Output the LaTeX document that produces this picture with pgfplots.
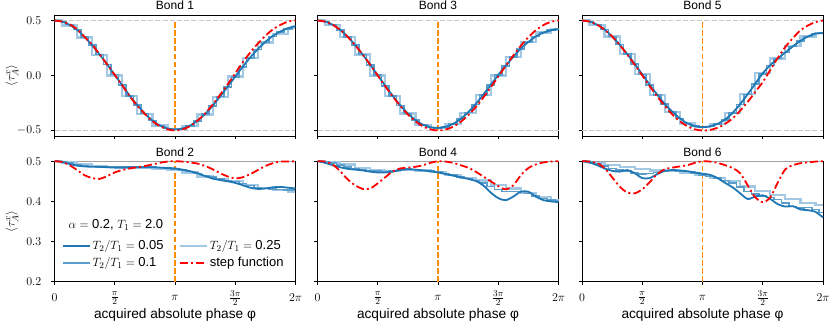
\documentclass[border=0pt]{standalone}
\usepackage{amsmath}
\usepackage{fontspec}
\setmainfont{Liberation Sans}
\usepackage{pgfplots}
\usepackage{pgfplotstable}
\pgfplotsset{compat=1.18}

\definecolor{b05}{HTML}{1F77B4}
\definecolor{b10}{HTML}{5C9ECC}
\definecolor{b25}{HTML}{A3C8E4}
\definecolor{refgray}{HTML}{C8C8C8}
\definecolor{vorange}{HTML}{FF8C00}

% line styles (tikz side, so legend images can use them too)
\tikzset{
  l25/.style={draw=b25, line width=2.2pt},
  l10/.style={draw=b10, line width=1.6pt},
  l05/.style={draw=b05, line width=1.8pt},
  lred/.style={draw=red, line width=1.8pt, dash pattern=on 8pt off 3pt on 2pt off 3pt},
}
\pgfplotsset{
  p25/.style={l25, const plot mark mid, forget plot},
  p10/.style={l10, const plot mark mid, forget plot},
  p05/.style={l05, smooth, forget plot},
  pred/.style={lred, smooth, forget plot},
  sor/.style={draw=vorange, line width=1.5pt, dash pattern=on 5.5pt off 2.4pt, forget plot},
  sgr/.style={draw=refgray, line width=1.1pt, dash pattern=on 5pt off 2.2pt, forget plot},
  stop/.style={draw=refgray!80!black, line width=1pt, forget plot},
  panel/.style={
    scale only axis, width=241pt, anchor=south west, clip=false,
    xmin=0, xmax=2,
    axis line style={line width=0.8pt},
    every tick/.style={black, line width=0.8pt},
    major tick length=3.5pt, tick align=outside,
    xtick pos=lower, ytick pos=left,
    xtick={0,0.5,1,1.5,2},
    ticklabel style={font=\fontsize{12.6}{15}\selectfont},
    xticklabel style={anchor=center, inner sep=0pt, yshift=-12.5pt},
    yticklabel style={anchor=east, inner sep=0pt, xshift=-9.5pt},
    every axis title/.style={at={(0.5,1)}, anchor=base, yshift=5pt, font=\fontsize{12}{14}\selectfont},
    every axis y label/.style={at={(rel axis cs:0,0.5)}, xshift=-42.5pt, rotate=90, anchor=center, font=\fontsize{13}{15}\selectfont},
    every axis x label/.style={at={(rel axis cs:0.5,0)}, yshift=-33pt, anchor=center, font=\fontsize{13.7}{16}\selectfont},
  },
  toprow/.style={panel, height=121pt, ymin=-0.55, ymax=0.55,
    ytick={-0.5,0,0.5}, yticklabels={$-0.5$,$0.0$,$0.5$}, xticklabels={}},
  botrow/.style={panel, height=120.5pt, ymin=0.2, ymax=0.5,
    ytick={0.2,0.3,0.4,0.5}, yticklabels={$0.2$,$0.3$,$0.4$,$0.5$},
    xticklabels={$0$,$\frac{\pi}{2}$,$\pi$,$\frac{3\pi}{2}$,$2\pi$},
    xlabel={acquired absolute phase φ}},
}

% x in units of pi; r = step function, b = T2/T1=0.05, c = T2/T1=0.1
\pgfplotstableread{
x      r       b       c
0      0.500   0.500   0.500
0.0625 0.490   0.490   0.492
0.125  0.465   0.460   0.462
0.1875 0.420   0.415   0.418
0.25   0.350   0.350   0.352
0.3125 0.280   0.275   0.278
0.375  0.190   0.190   0.192
0.4375 0.100   0.100   0.100
0.5    0.005   0.005   0.008
0.5625 -0.090  -0.090  -0.088
0.625  -0.190  -0.185  -0.185
0.6875 -0.275  -0.270  -0.270
0.75   -0.350  -0.345  -0.345
0.8125 -0.415  -0.410  -0.410
0.875  -0.460  -0.455  -0.455
0.9375 -0.490  -0.482  -0.482
1.0    -0.500  -0.490  -0.490
1.0625 -0.490  -0.482  -0.484
1.125  -0.460  -0.455  -0.458
1.1875 -0.410  -0.410  -0.414
1.25   -0.345  -0.350  -0.352
1.3125 -0.265  -0.275  -0.278
1.375  -0.175  -0.190  -0.192
1.4375 -0.080  -0.100  -0.102
1.5    0.020   -0.010  -0.012
1.5625 0.120   0.080   0.076
1.625  0.210   0.165   0.160
1.6875 0.290   0.240   0.236
1.75   0.360   0.305   0.300
1.8125 0.420   0.360   0.355
1.875  0.460   0.400   0.395
1.9375 0.490   0.430   0.425
2.0    0.500   0.450   0.445
}\bondA

\pgfplotstableread{
x      r       b       c
0      0.500   0.500   0.500
0.0625 0.498   0.498   0.499
0.125  0.490   0.493   0.496
0.1875 0.478   0.489   0.492
0.25   0.465   0.487   0.489
0.3125 0.458   0.486   0.487
0.375  0.456   0.486   0.486
0.4375 0.463   0.485   0.485
0.5    0.472   0.484   0.485
0.5625 0.478   0.484   0.485
0.625  0.482   0.485   0.485
0.6875 0.485   0.485   0.485
0.75   0.488   0.485   0.485
0.8125 0.492   0.485   0.485
0.875  0.496   0.484   0.484
0.9375 0.499   0.483   0.483
1.0    0.500   0.482   0.481
1.0625 0.499   0.479   0.478
1.125  0.497   0.475   0.474
1.1875 0.494   0.470   0.469
1.25   0.488   0.463   0.464
1.3125 0.480   0.457   0.460
1.375  0.470   0.453   0.456
1.4375 0.462   0.450   0.452
1.5    0.457   0.446   0.449
1.5625 0.460   0.440   0.444
1.625  0.468   0.434   0.439
1.6875 0.478   0.431   0.435
1.75   0.488   0.432   0.432
1.8125 0.495   0.435   0.431
1.875  0.499   0.436   0.430
1.9375 0.499   0.434   0.429
2.0    0.500   0.432   0.428
}\bondB

\pgfplotstableread{
x      r       b       c
0      0.500   0.500   0.500
0.0625 0.490   0.490   0.490
0.125  0.462   0.462   0.462
0.1875 0.415   0.416   0.416
0.25   0.352   0.353   0.352
0.3125 0.275   0.277   0.276
0.375  0.190   0.190   0.190
0.4375 0.098   0.098   0.098
0.5    0.000   0.002   0.002
0.5625 -0.098  -0.095  -0.095
0.625  -0.191  -0.186  -0.187
0.6875 -0.278  -0.272  -0.272
0.75   -0.354  -0.345  -0.346
0.8125 -0.416  -0.405  -0.406
0.875  -0.462  -0.447  -0.448
0.9375 -0.490  -0.470  -0.471
1.0    -0.500  -0.476  -0.477
1.0625 -0.492  -0.467  -0.470
1.125  -0.466  -0.440  -0.443
1.1875 -0.422  -0.395  -0.398
1.25   -0.362  -0.335  -0.338
1.3125 -0.288  -0.260  -0.263
1.375  -0.202  -0.175  -0.178
1.4375 -0.108  -0.085  -0.088
1.5    -0.010  0.005   0.002
1.5625 0.088   0.090   0.088
1.625  0.182   0.170   0.168
1.6875 0.270   0.245   0.243
1.75   0.348   0.305   0.303
1.8125 0.412   0.355   0.353
1.875  0.458   0.390   0.390
1.9375 0.488   0.410   0.412
2.0    0.500   0.420   0.422
}\bondC

\pgfplotstableread{
x      r       b       c
0      0.500   0.500   0.500
0.0625 0.499   0.496   0.499
0.125  0.492   0.490   0.495
0.1875 0.475   0.485   0.490
0.25   0.455   0.481   0.486
0.3125 0.440   0.479   0.482
0.375  0.431   0.477   0.479
0.4375 0.432   0.474   0.476
0.5    0.445   0.472   0.475
0.5625 0.460   0.472   0.474
0.625  0.475   0.474   0.476
0.6875 0.482   0.478   0.479
0.75   0.484   0.480   0.480
0.8125 0.486   0.479   0.479
0.875  0.490   0.477   0.477
0.9375 0.496   0.475   0.475
1.0    0.500   0.472   0.473
1.0625 0.499   0.468   0.469
1.125  0.496   0.464   0.465
1.1875 0.490   0.460   0.461
1.25   0.484   0.456   0.457
1.3125 0.474   0.451   0.452
1.375  0.462   0.440   0.445
1.4375 0.450   0.422   0.437
1.5    0.438   0.408   0.430
1.5625 0.430   0.403   0.425
1.625  0.440   0.412   0.425
1.6875 0.465   0.424   0.425
1.75   0.483   0.424   0.420
1.8125 0.492   0.412   0.413
1.875  0.497   0.403   0.407
1.9375 0.499   0.400   0.403
2.0    0.500   0.398   0.401
}\bondD

\pgfplotstableread{
x      r       b       c
0      0.500   0.500   0.500
0.0625 0.490   0.490   0.490
0.125  0.462   0.462   0.462
0.1875 0.416   0.418   0.418
0.25   0.354   0.355   0.355
0.3125 0.278   0.280   0.280
0.375  0.191   0.195   0.195
0.4375 0.098   0.105   0.104
0.5    0.000   0.010   0.009
0.5625 -0.098  -0.085  -0.086
0.625  -0.191  -0.175  -0.176
0.6875 -0.278  -0.260  -0.261
0.75   -0.354  -0.330  -0.332
0.8125 -0.416  -0.390  -0.392
0.875  -0.462  -0.435  -0.436
0.9375 -0.490  -0.460  -0.461
1.0    -0.500  -0.470  -0.470
1.0625 -0.495  -0.462  -0.463
1.125  -0.475  -0.440  -0.441
1.1875 -0.440  -0.400  -0.402
1.25   -0.390  -0.340  -0.342
1.3125 -0.320  -0.260  -0.262
1.375  -0.240  -0.170  -0.172
1.4375 -0.150  -0.075  -0.078
1.5    -0.060  0.020   0.016
1.5625 0.050   0.095   0.092
1.625  0.160   0.155   0.153
1.6875 0.260   0.210   0.208
1.75   0.340   0.265   0.263
1.8125 0.410   0.315   0.314
1.875  0.455   0.355   0.354
1.9375 0.485   0.380   0.380
2.0    0.500   0.385   0.386
}\bondE

\pgfplotstableread{
x      r       b       c
0      0.500   0.500   0.500
0.0625 0.499   0.497   0.498
0.125  0.495   0.490   0.494
0.1875 0.483   0.482   0.488
0.25   0.460   0.476   0.482
0.3125 0.437   0.474   0.478
0.375  0.422   0.478   0.475
0.4375 0.420   0.470   0.471
0.5    0.430   0.458   0.468
0.5625 0.448   0.458   0.469
0.625  0.468   0.468   0.472
0.6875 0.480   0.476   0.476
0.75   0.484   0.478   0.477
0.8125 0.487   0.477   0.476
0.875  0.490   0.475   0.474
0.9375 0.496   0.472   0.470
1.0    0.500   0.469   0.466
1.0625 0.499   0.466   0.462
1.125  0.496   0.458   0.458
1.1875 0.490   0.446   0.452
1.25   0.483   0.435   0.445
1.3125 0.470   0.420   0.436
1.375  0.440   0.406   0.425
1.4375 0.410   0.412   0.418
1.5    0.398   0.415   0.413
1.5625 0.410   0.406   0.410
1.625  0.447   0.393   0.405
1.6875 0.480   0.387   0.396
1.75   0.490   0.388   0.387
1.8125 0.495   0.380   0.383
1.875  0.497   0.378   0.385
1.9375 0.499   0.374   0.380
2.0    0.500   0.360   0.372
}\bondF

\begin{document}
\begin{tikzpicture}
% ---- top row ----
\begin{axis}[toprow, at={(54.5pt,187pt)}, title={Bond 1}, ylabel={$\langle\tau_A^x\rangle$}]
\addplot[sgr] coordinates {(0,0.5)(2,0.5)};
\addplot[sgr] coordinates {(0,-0.5)(2,-0.5)};
\addplot[sor] coordinates {(1,-0.5)(1,0.5)};
\addplot[p25] coordinates {(0,0.5)(0.125,0.455)(0.25,0.345)(0.375,0.185)(0.5,0.0)(0.625,-0.19)(0.75,-0.35)(0.875,-0.455)(1.0,-0.49)(1.125,-0.46)(1.25,-0.355)(1.375,-0.195)(1.5,-0.01)(1.625,0.16)(1.75,0.3)(1.875,0.38)(2.0,0.43)};
\addplot[p10] table[x=x,y=c] {\bondA};
\addplot[p05] table[x=x,y=b] {\bondA};
\addplot[pred] table[x=x,y=r] {\bondA};
\end{axis}

\begin{axis}[toprow, at={(317.5pt,187pt)}, title={Bond 3}, yticklabels={}]
\addplot[sgr] coordinates {(0,0.5)(2,0.5)};
\addplot[sgr] coordinates {(0,-0.5)(2,-0.5)};
\addplot[sor] coordinates {(1,-0.5)(1,0.5)};
\addplot[p25] coordinates {(0,0.5)(0.125,0.462)(0.25,0.352)(0.375,0.19)(0.5,0.0)(0.625,-0.187)(0.75,-0.346)(0.875,-0.448)(1.0,-0.477)(1.125,-0.443)(1.25,-0.338)(1.375,-0.178)(1.5,0.0)(1.625,0.168)(1.75,0.303)(1.875,0.39)(2.0,0.422)};
\addplot[p10] table[x=x,y=c] {\bondC};
\addplot[p05] table[x=x,y=b] {\bondC};
\addplot[pred] table[x=x,y=r] {\bondC};
\end{axis}

\begin{axis}[toprow, at={(582pt,187pt)}, title={Bond 5}, yticklabels={}]
\addplot[sgr] coordinates {(0,0.5)(2,0.5)};
\addplot[sgr] coordinates {(0,-0.5)(2,-0.5)};
\addplot[sor] coordinates {(1,-0.5)(1,0.5)};
\addplot[p25] coordinates {(0,0.5)(0.125,0.462)(0.25,0.355)(0.375,0.195)(0.5,0.01)(0.625,-0.176)(0.75,-0.332)(0.875,-0.436)(1.0,-0.465)(1.125,-0.44)(1.25,-0.34)(1.375,-0.17)(1.5,0.02)(1.625,0.155)(1.75,0.265)(1.875,0.355)(2.0,0.388)};
\addplot[p10] table[x=x,y=c] {\bondE};
\addplot[p05] table[x=x,y=b] {\bondE};
\addplot[pred] table[x=x,y=r] {\bondE};
\end{axis}

% ---- bottom row ----
\begin{axis}[botrow, at={(54.5pt,41.3pt)}, title={Bond 2}, ylabel={$\langle\tau_A^x\rangle$},
  legend columns=2, legend cell align=left,
  legend image code/.code={\draw[#1] (0pt,0pt) -- (27pt,0pt);},
  legend style={at={(0.019,0.37)}, anchor=north west, draw=none, fill=none,
    font=\fontsize{13}{15}\selectfont, row sep=3pt, nodes={inner sep=1.5pt},
    /tikz/every even column/.append style={column sep=14pt}}]
\addplot[stop] coordinates {(0,0.5)(2,0.5)};
\addplot[sor] coordinates {(1,0.2)(1,0.5)};
\addplot[p25] coordinates {(0,0.5)(0.125,0.497)(0.25,0.492)(0.375,0.488)(0.5,0.485)(0.625,0.484)(0.75,0.484)(0.875,0.482)(1.0,0.478)(1.125,0.472)(1.25,0.462)(1.375,0.455)(1.5,0.45)(1.625,0.44)(1.75,0.433)(1.875,0.428)(2.0,0.424)};
\addplot[p10] table[x=x,y=c] {\bondB};
\addplot[p05] table[x=x,y=b] {\bondB};
\addplot[pred] table[x=x,y=r] {\bondB};
\node[font=\fontsize{13}{15}\selectfont] at (axis cs:0.51,0.342) {$\alpha=\text{0.2}$, $T_1=\text{2.0}$};
\addlegendimage{l05}\addlegendentry{$T_2/T_1=\text{0.05}$}
\addlegendimage{l25}\addlegendentry{$T_2/T_1=\text{0.25}$}
\addlegendimage{l10}\addlegendentry{$T_2/T_1=\text{0.1}$}
\addlegendimage{lred}\addlegendentry{step function}
\end{axis}

\begin{axis}[botrow, at={(317.5pt,41.3pt)}, title={Bond 4}, yticklabels={}]
\addplot[stop] coordinates {(0,0.5)(2,0.5)};
\addplot[sor] coordinates {(1,0.2)(1,0.5)};
\addplot[p25] coordinates {(0,0.5)(0.125,0.497)(0.25,0.492)(0.375,0.484)(0.5,0.477)(0.625,0.476)(0.75,0.479)(0.875,0.477)(1.0,0.473)(1.125,0.466)(1.25,0.459)(1.375,0.452)(1.5,0.44)(1.625,0.432)(1.75,0.42)(1.875,0.41)(2.0,0.402)};
\addplot[p10] table[x=x,y=c] {\bondD};
\addplot[p05] table[x=x,y=b] {\bondD};
\addplot[pred] table[x=x,y=r] {\bondD};
\end{axis}

\begin{axis}[botrow, at={(582pt,41.3pt)}, title={Bond 6}, yticklabels={}]
\addplot[stop] coordinates {(0,0.5)(2,0.5)};
\addplot[sor] coordinates {(1,0.2)(1,0.5)};
\addplot[p25] coordinates {(0,0.5)(0.125,0.496)(0.25,0.49)(0.375,0.485)(0.5,0.48)(0.625,0.477)(0.75,0.476)(0.875,0.472)(1.0,0.465)(1.125,0.458)(1.25,0.45)(1.375,0.437)(1.5,0.425)(1.625,0.415)(1.75,0.405)(1.875,0.395)(2.0,0.39)};
\addplot[p10] table[x=x,y=c] {\bondF};
\addplot[p05] table[x=x,y=b] {\bondF};
\addplot[pred] table[x=x,y=r] {\bondF};
\end{axis}

\pgfresetboundingbox
\path[use as bounding box] (0,0) rectangle (831pt,323pt);
\end{tikzpicture}
\end{document}
